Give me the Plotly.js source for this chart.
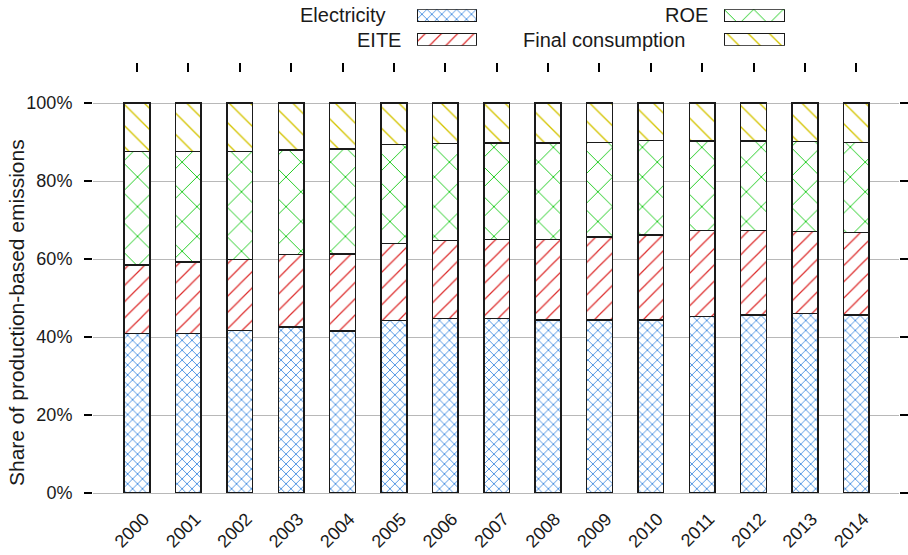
<!DOCTYPE html>
<html>
<head>
<meta charset="utf-8">
<script src="https://cdn.plot.ly/plotly-3.0.1.min.js"></script>
<style>html,body{margin:0;padding:0;background:#fff;}#chart{width:908px;height:555px;}</style>
</head>
<body>
<div id="chart"></div>
<script>
// ---- data (shares of production-based emissions, %) ----
const years = ['2000','2001','2002','2003','2004','2005','2006','2007','2008','2009','2010','2011','2012','2013','2014'];
const seriesNames = ['Electricity','EITE','ROE','Final consumption'];
const electricity = [40.9,40.9,41.7,42.6,41.5,44.2,44.7,44.7,44.3,44.4,44.4,45.3,45.7,46.0,45.6];
const eite        = [17.6,18.3,18.2,18.5,19.8,19.8,20.0,20.3,20.7,21.2,21.8,22.0,21.6,21.1,21.2];
const roe         = [29.1,28.4,27.7,26.8,26.9,25.4,24.9,24.8,24.7,24.3,24.2,23.0,22.9,23.0,23.1];
const finalCons   = [12.4,12.4,12.4,12.1,11.8,10.6,10.4,10.2,10.3,10.1,9.6,9.7,9.8,9.9,10.1];
const yTickVals   = [0,20,40,60,80,100];
const yTickText   = ['0%','20%','40%','60%','80%','100%'];
const yTitle = 'Share of production-based emissions';

// ---- styles ----
const FONT = 'Liberation Sans, Arial, Helvetica, sans-serif';
const styles = {
  'Electricity':       {shape:'x',  fg:'#1a74d9', size:7,    solidity:0.2},
  'EITE':              {shape:'/',  fg:'#dd2c2c', size:11.5, solidity:0.105},
  'ROE':               {shape:'x',  fg:'#10c810', size:21,   solidity:0.085},
  'Final consumption': {shape:'\\', fg:'#d4c400', size:15,   solidity:0.09}
};
const values = {'Electricity':electricity,'EITE':eite,'ROE':roe,'Final consumption':finalCons};

function marker(name){
  const s = styles[name];
  return {color:'#ffffff', line:{color:'#1a1a1a', width:1.5},
          pattern:{shape:s.shape, fgcolor:s.fg, bgcolor:'#ffffff', size:s.size, solidity:s.solidity, fillmode:'replace', fgopacity:1}};
}

// ---- geometry helpers (pixel -> paper) ----
const W = 908, H = 555, ML = 93, MR = 9, MT = 5, MB = 62;
const PW = W - ML - MR, PH = H - MT - MB;
const px = x => (x - ML) / PW;
const py = y => (H - MB - y) / PH;
const plotTop = 73;

const traces = [];
seriesNames.forEach(name => {
  traces.push({type:'bar', name:name, x:years, y:values[name], width:0.5,
    marker:marker(name), showlegend:false, hoverinfo:'x+y+name', xaxis:'x', yaxis:'y'});
});
// invisible trace carrying the top tick axis
traces.push({type:'scatter', mode:'markers', x:years.map((_,i)=>i), y:years.map(()=>null),
  xaxis:'x2', yaxis:'y', showlegend:false, hoverinfo:'skip'});

// custom legend swatches (text left of the box, as in the reference)
const col1 = [seriesNames[0], seriesNames[1]];
const col2 = [seriesNames[2], seriesNames[3]];
col1.forEach(name => traces.push({type:'bar', orientation:'h', y:[name], x:[1], width:0.517,
  marker:marker(name), xaxis:'x3', yaxis:'y3', showlegend:false, hoverinfo:'skip'}));
col2.forEach(name => traces.push({type:'bar', orientation:'h', y:[name], x:[1], width:0.517,
  marker:marker(name), xaxis:'x4', yaxis:'y4', showlegend:false, hoverinfo:'skip'}));

const xr = [-0.856, 14.83];
const hiddenX = {range:[0,1], visible:false, fixedrange:true};
const swY = [py(45.7), py(9.3)];
const legFont = {family:FONT, size:20, color:'#1a1a1a'};

const layout = {
  width:W, height:H,
  margin:{l:ML, r:MR, t:MT, b:MB, pad:0},
  paper_bgcolor:'#ffffff', plot_bgcolor:'#ffffff',
  barmode:'stack',
  showlegend:false,
  font:{family:FONT, color:'#1a1a1a', size:18},
  xaxis:{type:'category', categoryarray:years, categoryorder:'array', range:xr,
    showgrid:false, zeroline:false, showline:false, ticks:'', tickangle:-45,
    tickfont:{family:FONT, size:18, color:'#1a1a1a'}, ticklabelstandoff:11, ticklabelshift:7},
  xaxis2:{overlaying:'x', side:'top', anchor:'y', type:'linear', range:xr,
    tickmode:'array', tickvals:years.map((_,i)=>i), ticks:'outside', ticklen:9, tickwidth:2,
    tickcolor:'#000', showticklabels:false, showgrid:false, zeroline:false, showline:false},
  yaxis:{domain:[0, py(plotTop)], range:[0, 100*(H-MB-plotTop)/390], tickmode:'array',
    tickvals:yTickVals, ticktext:yTickText, ticks:'outside', ticklen:8, tickwidth:2, tickcolor:'#000', mirror:'ticks',
    showgrid:true, gridcolor:'#b8b8b8', gridwidth:1, zeroline:true, zerolinecolor:'#b8b8b8', zerolinewidth:1,
    showline:false, tickfont:{family:FONT, size:18, color:'#1a1a1a'}, ticklabelstandoff:8},
  xaxis3:Object.assign({domain:[px(417), px(477)], anchor:'y3'}, hiddenX),
  yaxis3:{domain:swY, anchor:'x3', type:'category', categoryarray:[col1[1], col1[0]], categoryorder:'array',
    range:[-0.258, 1.258], visible:false, fixedrange:true},
  xaxis4:Object.assign({domain:[px(724), px(785)], anchor:'y4'}, hiddenX),
  yaxis4:{domain:swY, anchor:'x4', type:'category', categoryarray:[col2[1], col2[0]], categoryorder:'array',
    range:[-0.258, 1.258], visible:false, fixedrange:true},
  annotations:[
    {text:yTitle, textangle:-90, xref:'paper', yref:'paper', x:px(17), y:py(313),
     xanchor:'center', yanchor:'middle', showarrow:false, font:{family:FONT, size:21, color:'#1a1a1a'}},
    {text:col1[0], xref:'paper', yref:'paper', x:px(388), y:py(15.5), xanchor:'right', yanchor:'middle', showarrow:false, font:legFont},
    {text:col1[1], xref:'paper', yref:'paper', x:px(403), y:py(39.5), xanchor:'right', yanchor:'middle', showarrow:false, font:legFont},
    {text:col2[0], xref:'paper', yref:'paper', x:px(710), y:py(15.5), xanchor:'right', yanchor:'middle', showarrow:false, font:legFont},
    {text:col2[1], xref:'paper', yref:'paper', x:px(687), y:py(39.5), xanchor:'right', yanchor:'middle', showarrow:false, font:legFont}
  ]
};

Plotly.newPlot('chart', traces, layout, {displayModeBar:false, staticPlot:true});
</script>
</body>
</html>
